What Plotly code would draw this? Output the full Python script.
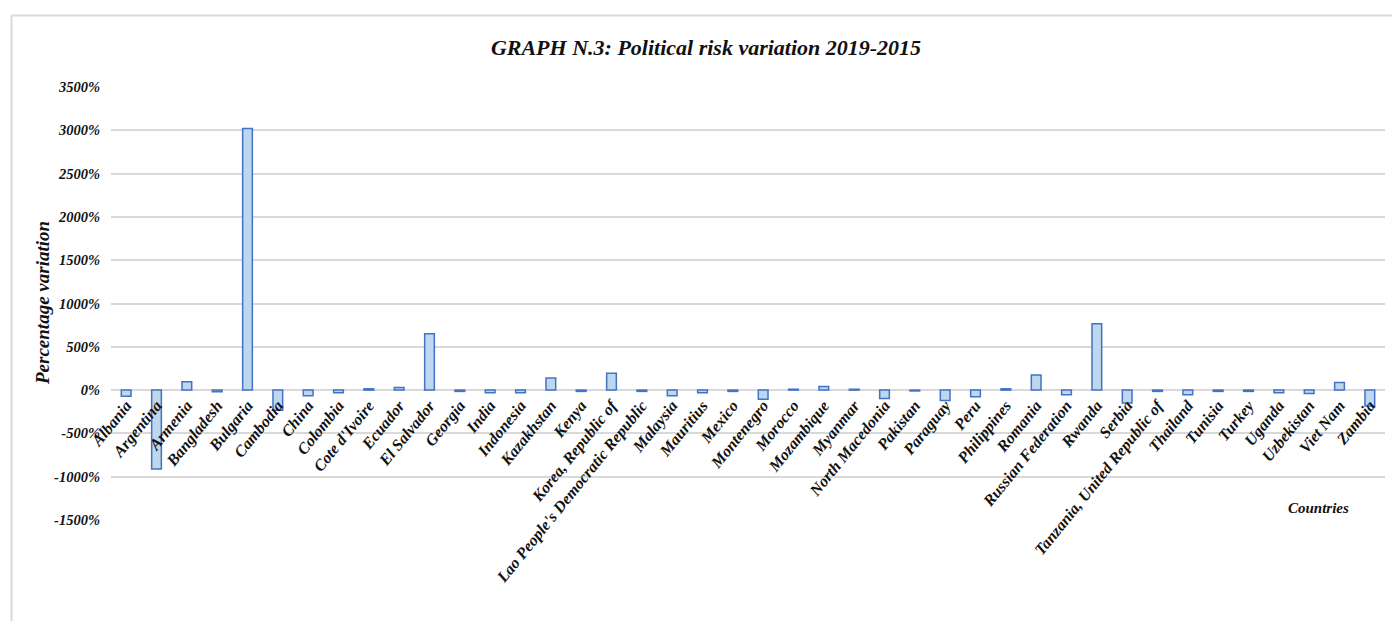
import plotly.graph_objects as go

countries = ["Albania", "Argentina", "Armenia", "Bangladesh", "Bulgaria", "Cambodia", "China",
             "Colombia", "Cote d'Ivoire", "Ecuador", "El Salvador", "Georgia", "India", "Indonesia",
             "Kazakhstan", "Kenya", "Korea, Republic of", "Lao People's Democratic Republic",
             "Malaysia", "Mauritius", "Mexico", "Montenegro", "Morocco", "Mozambique", "Myanmar",
             "North Macedonia", "Pakistan", "Paraguay", "Peru", "Philippines", "Romania",
             "Russian Federation", "Rwanda", "Serbia", "Tanzania, United Republic of", "Thailand",
             "Tunisia", "Turkey", "Uganda", "Uzbekistan", "Viet Nam", "Zambia"]

variation_pct = [-70, -910, 95, -20, 3020, -232, -65,
                 -30, 15, 30, 650, -15, -30, -30,
                 140, -15, 196, -15,
                 -65, -30, -15, -107, 10, 43, 10,
                 -96, -10, -119, -77, 15, 173,
                 -54, 765, -150, -15, -54,
                 -15, -15, -30, -40, 89, -185]

y_ticks = [-1500, -1000, -500, 0, 500, 1000, 1500, 2000, 2500, 3000, 3500]
y_tick_text = [f"{v}%" for v in y_ticks]

FONT = "Liberation Serif, Times New Roman, serif"
GRID = "#D9D9D9"

fig = go.Figure()
fig.add_trace(go.Bar(
    x=countries, y=variation_pct, width=0.32,
    marker=dict(color="#BDD7EE", line=dict(color="#4472C4", width=1.5)),
    hoverinfo="x+y",
))

fig.update_layout(
    width=1392, height=621,
    margin=dict(l=111, r=7, t=87, b=101),
    paper_bgcolor="white", plot_bgcolor="white",
    showlegend=False,
    title=dict(text="GRAPH N.3: Political risk variation 2019-2015",
               x=706 / 1392, xref="container", xanchor="center", y=1 - 47 / 621, yref="container",
               yanchor="middle",
               font=dict(family=FONT, size=22, color="#111111", weight="bold", style="italic")),
    yaxis=dict(range=[-1500, 3500], tickvals=y_ticks, ticktext=y_tick_text,
               showgrid=True, gridcolor=GRID, gridwidth=1.5,
               zeroline=True, zerolinecolor=GRID, zerolinewidth=1.5,
               showline=False, ticks="", ticklabelstandoff=10,
               tickfont=dict(family=FONT, size=14.5, color="#111111", weight="bold", style="italic")),
    xaxis=dict(anchor="free", position=0.3, showgrid=False, showline=False, zeroline=False,
               ticks="", tickangle=-51, ticklabelstandoff=2,
               tickfont=dict(family=FONT, size=16, color="#111111", weight="bold", style="italic")),
)

fig.add_annotation(text="Percentage variation", xref="paper", yref="paper",
                   x=(42 - 111) / 1274, y=(520 - 303) / 433, showarrow=False, textangle=-90,
                   xanchor="center", yanchor="middle",
                   font=dict(family=FONT, size=19, color="#111111", weight="bold", style="italic"))
fig.add_annotation(text="Countries", xref="paper", yref="paper",
                   x=(1318 - 111) / 1274, y=(520 - 508) / 433, showarrow=False,
                   xanchor="center", yanchor="middle",
                   font=dict(family=FONT, size=15, color="#111111", weight="bold", style="italic"))

# outer chart frame (top and left edges visible)
fx0 = (11.5 - 111) / 1274
fy_top = (520 - 15.5) / 433
fig.add_shape(type="line", xref="paper", yref="paper", x0=fx0, x1=1.05, y0=fy_top, y1=fy_top,
              line=dict(color=GRID, width=2))
fig.add_shape(type="line", xref="paper", yref="paper", x0=fx0, x1=fx0, y0=fy_top, y1=-0.3,
              line=dict(color=GRID, width=2))

fig.write_html("out.html")
